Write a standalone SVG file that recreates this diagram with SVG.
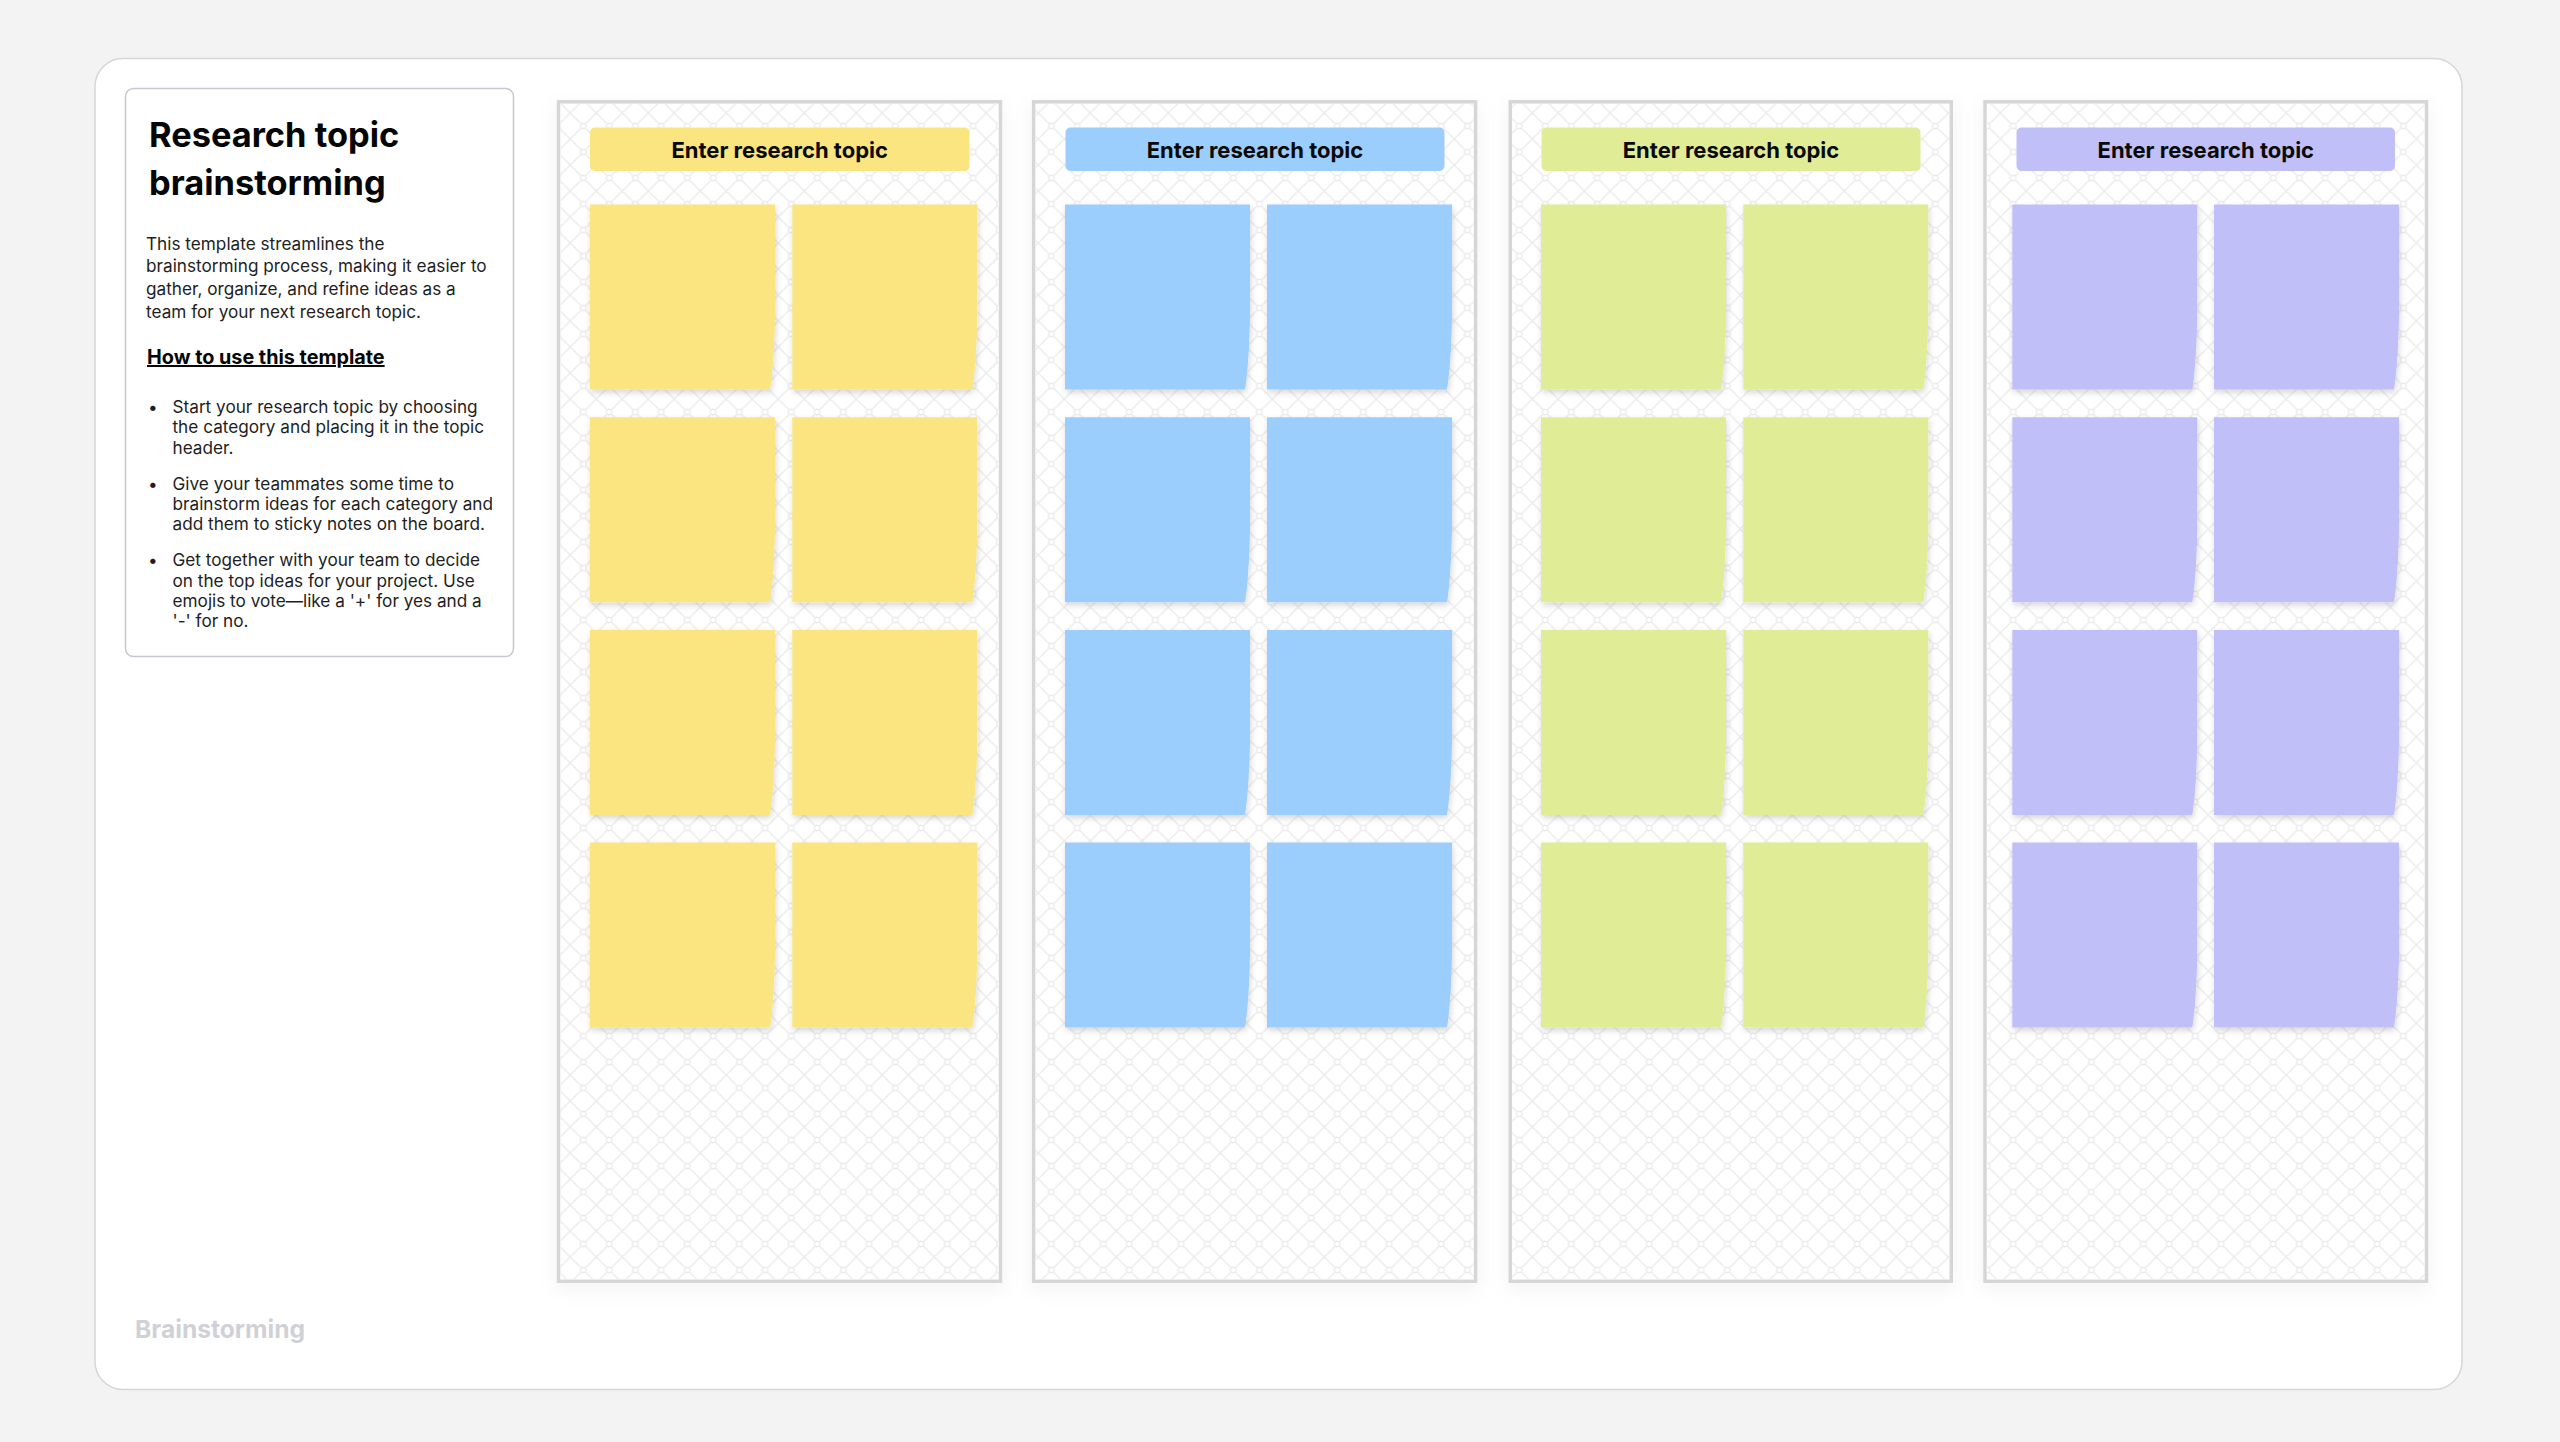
<svg xmlns="http://www.w3.org/2000/svg" xmlns:xlink="http://www.w3.org/1999/xlink" width="2560" height="1442" viewBox="0 0 2560 1442">
<style>
.board{fill:#ffffff;stroke:#d6d6d6;stroke-width:3.5}
.lattice{fill:url(#lattice)}
.hdr-text{font-family:Inter,"Noto Sans","Liberation Sans",sans-serif;font-size:22px;font-weight:700;fill:#0a0a0a;text-anchor:middle}
.body{font-family:Inter,"Noto Sans","Liberation Sans",sans-serif;font-size:17.2px;fill:#1e1e1e}
.title{font-family:Inter,"Noto Sans","Liberation Sans",sans-serif;font-size:34.4px;font-weight:700;fill:#050505}
.sub{font-family:Inter,"Noto Sans","Liberation Sans",sans-serif;font-size:19.8px;font-weight:700;fill:#050505;text-decoration:underline}
.label{font-family:Inter,"Noto Sans","Liberation Sans",sans-serif;font-size:24.6px;font-weight:700;fill:#d0d1d7}
.yellow{fill:#fae580}
.blue{fill:#9bcefc}
.green{fill:#e0ed96}
.purple{fill:#c1bff7}
.note{filter:url(#noteShadow)}
</style>
<defs>
<pattern id="lattice" patternUnits="userSpaceOnUse" x="11.3" y="22" width="26" height="26">
<g fill="none" stroke="#ececec" stroke-width="1.4">
<line x1="0" y1="0" x2="26" y2="26"/>
<line x1="26" y1="0" x2="0" y2="26"/>
<circle cx="0" cy="0" r="2.8" fill="#ffffff"/>
<circle cx="26" cy="0" r="2.8" fill="#ffffff"/>
<circle cx="0" cy="26" r="2.8" fill="#ffffff"/>
<circle cx="26" cy="26" r="2.8" fill="#ffffff"/>
</g>
</pattern>
<filter id="noteShadow" x="-10%" y="-10%" width="125%" height="130%">
<feDropShadow dx="1" dy="3" stdDeviation="3" flood-color="#000" flood-opacity="0.16"/>
</filter>
<filter id="boardShadow" x="-10%" y="-5%" width="120%" height="115%">
<feDropShadow dx="0" dy="6" stdDeviation="10" flood-color="#000" flood-opacity="0.05"/>
</filter>
<path id="note" d="M0,0 H185 V112 Q184,160 180,185 H0 Z"/>
</defs>

<rect x="0" y="0" width="2560" height="1442" fill="#f2f3f2"/>

<g id="frame">
<rect x="95" y="58.5" width="2367" height="1331" rx="28" fill="#ffffff" stroke="#d6d6d8" stroke-width="1.5"/>
<text class="label" x="135" y="1338">Brainstorming</text>
</g>

<g id="info-card">
<rect x="125.5" y="88.5" width="388" height="568" rx="8" fill="#ffffff" stroke="#c5c8d0" stroke-width="1.5"/>
<text class="title" x="149" y="147">Research topic</text>
<text class="title" x="149" y="194.5">brainstorming</text>
<text class="body" x="146" y="249.5">This template streamlines the</text>
<text class="body" x="146" y="272.2">brainstorming process, making it easier to</text>
<text class="body" x="146" y="294.9">gather, organize, and refine ideas as a</text>
<text class="body" x="146" y="317.6">team for your next research topic.</text>
<text class="sub" x="147" y="364">How to use this template</text>
<text class="body" x="148" y="413">•</text>
<text class="body" x="172.5" y="413">Start your research topic by choosing</text>
<text class="body" x="172.5" y="433.3">the category and placing it in the topic</text>
<text class="body" x="172.5" y="453.6">header.</text>
<text class="body" x="148" y="489.7">•</text>
<text class="body" x="172.5" y="489.7">Give your teammates some time to</text>
<text class="body" x="172.5" y="510">brainstorm ideas for each category and</text>
<text class="body" x="172.5" y="530.3">add them to sticky notes on the board.</text>
<text class="body" x="148" y="566.3">•</text>
<text class="body" x="172.5" y="566.3">Get together with your team to decide</text>
<text class="body" x="172.5" y="586.6">on the top ideas for your project. Use</text>
<text class="body" x="172.5" y="606.9">emojis to vote—like a '+' for yes and a</text>
<text class="body" x="172.5" y="627.2">'-' for no.</text>
</g>

<g id="column-1">
<rect class="board" filter="url(#boardShadow)" x="558.5" y="101.8" width="442" height="1179.5"/>
<rect class="lattice" x="560.3" y="103.6" width="438.4" height="1175.9"/>
<rect class="yellow" x="590" y="127.5" width="379.5" height="43.5" rx="5"/>
<text class="hdr-text" x="779.7" y="157.7">Enter research topic</text>
<use href="#note" class="note yellow" x="590" y="204.5"/>
<use href="#note" class="note yellow" x="792.3" y="204.5"/>
<use href="#note" class="note yellow" x="590" y="417.2"/>
<use href="#note" class="note yellow" x="792.3" y="417.2"/>
<use href="#note" class="note yellow" x="590" y="629.9"/>
<use href="#note" class="note yellow" x="792.3" y="629.9"/>
<use href="#note" class="note yellow" x="590" y="842.6"/>
<use href="#note" class="note yellow" x="792.3" y="842.6"/>
</g>

<g id="column-2">
<rect class="board" filter="url(#boardShadow)" x="1033.6" y="101.8" width="442" height="1179.5"/>
<rect class="lattice" x="1035.4" y="103.6" width="438.4" height="1175.9"/>
<rect class="blue" x="1065.5" y="127.5" width="379" height="43.5" rx="5"/>
<text class="hdr-text" x="1255" y="157.7">Enter research topic</text>
<use href="#note" class="note blue" x="1065" y="204.5"/>
<use href="#note" class="note blue" x="1267" y="204.5"/>
<use href="#note" class="note blue" x="1065" y="417.2"/>
<use href="#note" class="note blue" x="1267" y="417.2"/>
<use href="#note" class="note blue" x="1065" y="629.9"/>
<use href="#note" class="note blue" x="1267" y="629.9"/>
<use href="#note" class="note blue" x="1065" y="842.6"/>
<use href="#note" class="note blue" x="1267" y="842.6"/>
</g>

<g id="column-3">
<rect class="board" filter="url(#boardShadow)" x="1510.3" y="101.8" width="441" height="1179.5"/>
<rect class="lattice" x="1512.1" y="103.6" width="437.4" height="1175.9"/>
<rect class="green" x="1541.5" y="127.5" width="379" height="43.5" rx="5"/>
<text class="hdr-text" x="1731" y="157.7">Enter research topic</text>
<use href="#note" class="note green" x="1541" y="204.5"/>
<use href="#note" class="note green" x="1743.3" y="204.5"/>
<use href="#note" class="note green" x="1541" y="417.2"/>
<use href="#note" class="note green" x="1743.3" y="417.2"/>
<use href="#note" class="note green" x="1541" y="629.9"/>
<use href="#note" class="note green" x="1743.3" y="629.9"/>
<use href="#note" class="note green" x="1541" y="842.6"/>
<use href="#note" class="note green" x="1743.3" y="842.6"/>
</g>

<g id="column-4">
<rect class="board" filter="url(#boardShadow)" x="1985" y="101.8" width="441.5" height="1179.5"/>
<rect class="lattice" x="1986.8" y="103.6" width="437.9" height="1175.9"/>
<rect class="purple" x="2016.5" y="127.5" width="378.5" height="43.5" rx="5"/>
<text class="hdr-text" x="2205.8" y="157.7">Enter research topic</text>
<use href="#note" class="note purple" x="2012.3" y="204.5"/>
<use href="#note" class="note purple" x="2214" y="204.5"/>
<use href="#note" class="note purple" x="2012.3" y="417.2"/>
<use href="#note" class="note purple" x="2214" y="417.2"/>
<use href="#note" class="note purple" x="2012.3" y="629.9"/>
<use href="#note" class="note purple" x="2214" y="629.9"/>
<use href="#note" class="note purple" x="2012.3" y="842.6"/>
<use href="#note" class="note purple" x="2214" y="842.6"/>
</g>

<g id="connectors"/>
</svg>
